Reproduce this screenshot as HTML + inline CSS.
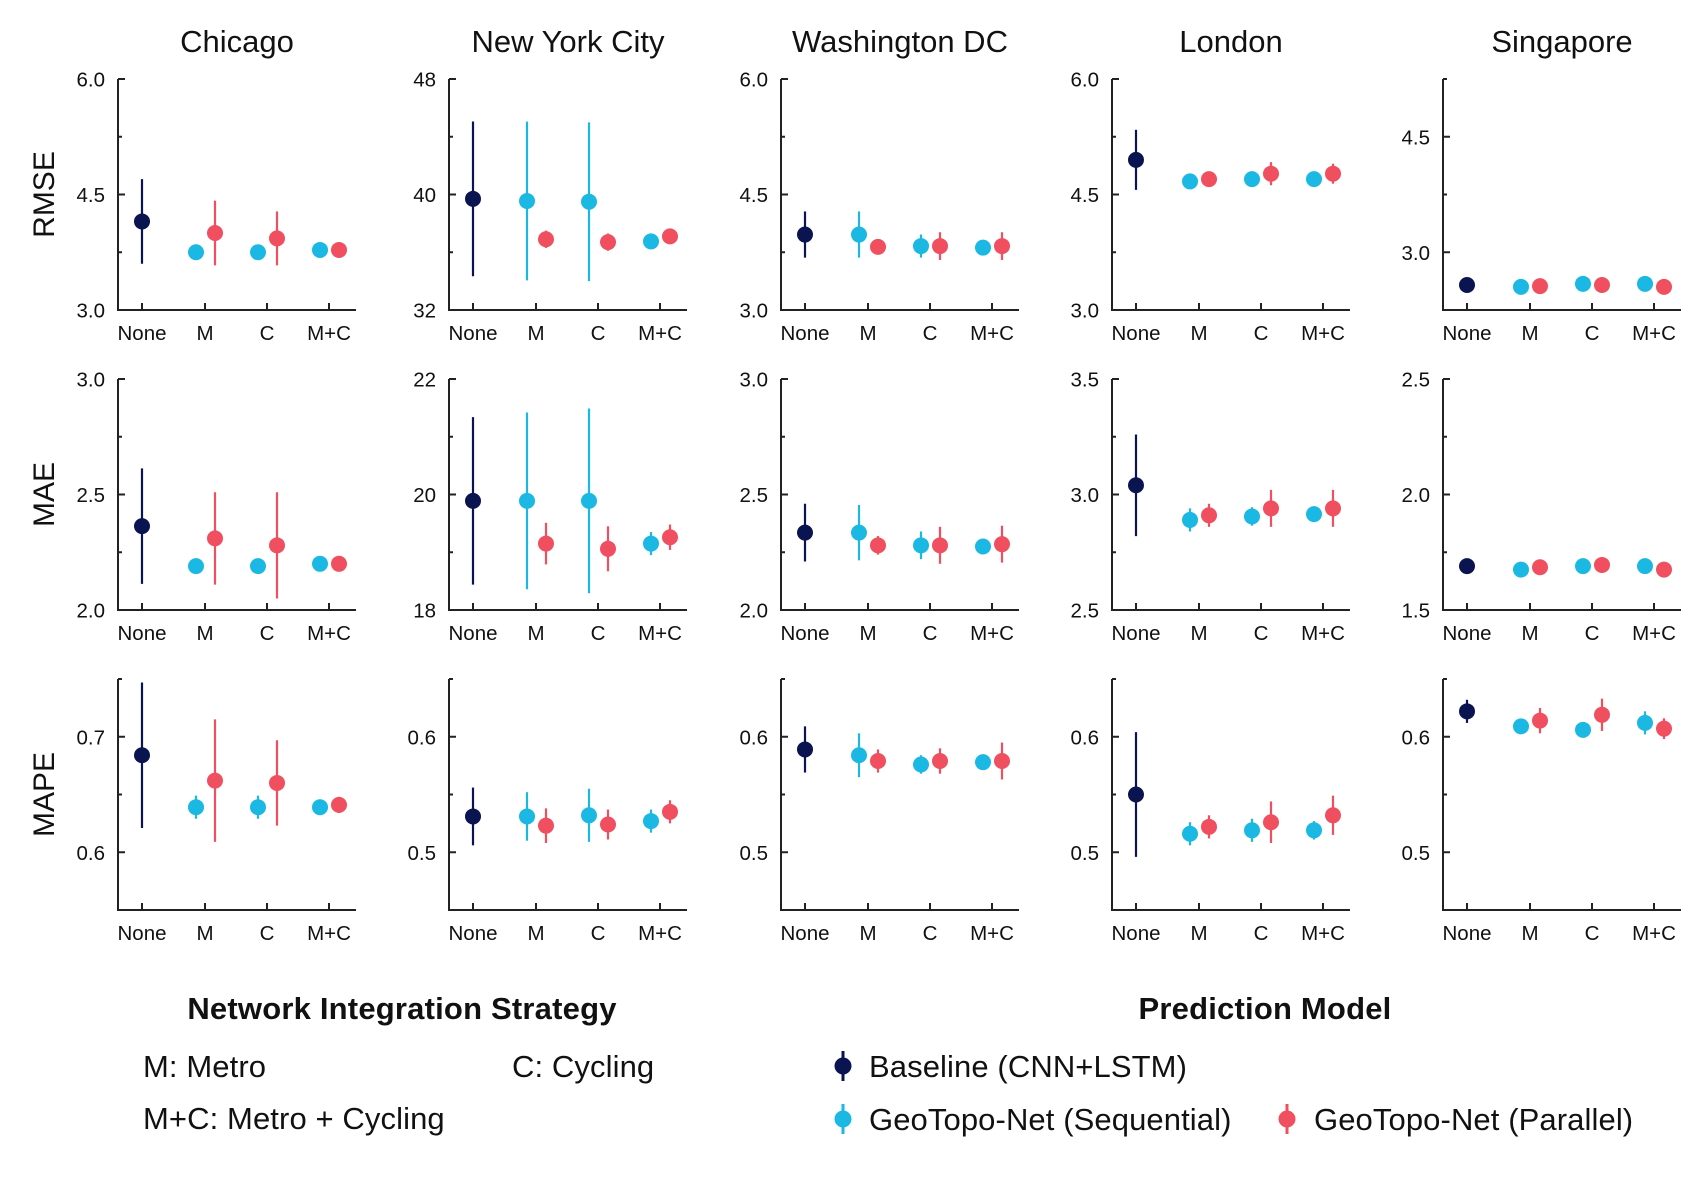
<!DOCTYPE html>
<html><head><meta charset="utf-8"><style>
html,body{margin:0;padding:0;background:#fff;}
svg{display:block;font-family:"Liberation Sans",Arial,sans-serif;}
</style></head><body>
<svg id="chart" width="1706" height="1179" viewBox="0 0 1706 1179"></svg>
<script>
const cities = ["Chicago","New York City","Washington DC","London","Singapore"];
const metrics = ["RMSE","MAE","MAPE"];
const categories = ["None","M","C","M+C"];
// y-axis domains [min,max] per metric row, per city
const domains = [
 [[3,6],[32,48],[3,6],[3,6],[2.25,5.25]],
 [[2,3],[18,22],[2,3],[2.5,3.5],[1.5,2.5]],
 [[0.55,0.75],[0.45,0.65],[0.45,0.65],[0.45,0.65],[0.45,0.65]]
];
const majorTicks = [
 [[3,4.5,6],[32,40,48],[3,4.5,6],[3,4.5,6],[3,4.5]],
 [[2,2.5,3],[18,20,22],[2,2.5,3],[2.5,3,3.5],[1.5,2,2.5]],
 [[0.6,0.7],[0.5,0.6],[0.5,0.6],[0.5,0.6],[0.5,0.6]]
];
const tickLabels = [
 [["3.0","4.5","6.0"],["32","40","48"],["3.0","4.5","6.0"],["3.0","4.5","6.0"],["3.0","4.5"]],
 [["2.0","2.5","3.0"],["18","20","22"],["2.0","2.5","3.0"],["2.5","3.0","3.5"],["1.5","2.0","2.5"]],
 [["0.6","0.7"],["0.5","0.6"],["0.5","0.6"],["0.5","0.6"],["0.5","0.6"]]
];
const minorTicks = [
 [[3.75,5.25],[36,44],[3.75,5.25],[3.75,5.25],[3.75,5.25,2.25]],
 [[2.25,2.75],[19,21],[2.25,2.75],[2.75,3.25],[1.75,2.25]],
 [[0.55,0.65,0.75],[0.45,0.55,0.65],[0.45,0.55,0.65],[0.45,0.55,0.65],[0.45,0.55,0.65]]
];
// baseline [mean, err] at "None"
const baseline = [
 [[4.15,0.55],[39.7,5.36],[3.98,0.3],[4.95,0.39],[2.575,0.06]],
 [[2.363,0.25],[19.89,1.45],[2.335,0.125],[3.04,0.22],[1.69,0.03]],
 [[0.684,0.063],[0.531,0.025],[0.589,0.02],[0.55,0.054],[0.622,0.01]]
];
// sequential means/errs at M, C, M+C
const seqMean = [
 [[3.75,3.75,3.78],[39.55,39.5,36.75],[3.98,3.83,3.81],[4.67,4.70,4.70],[2.55,2.59,2.59]],
 [[2.19,2.19,2.20],[19.89,19.89,19.15],[2.335,2.28,2.275],[2.89,2.905,2.915],[1.675,1.69,1.69]],
 [[0.639,0.639,0.639],[0.531,0.532,0.527],[0.584,0.576,0.578],[0.516,0.519,0.519],[0.609,0.606,0.612]]
];
const seqErr = [
 [[0.03,0.03,0.03],[5.5,5.5,0.3],[0.3,0.15,0.05],[0.05,0.05,0.05],[0.05,0.05,0.05]],
 [[0.02,0.02,0.02],[1.53,1.6,0.2],[0.12,0.06,0.02],[0.05,0.04,0.02],[0.015,0.015,0.015]],
 [[0.01,0.01,0.005],[0.021,0.023,0.01],[0.019,0.008,0.005],[0.01,0.01,0.008],[0.004,0.004,0.01]]
];
const parMean = [
 [[4.0,3.93,3.78],[36.9,36.7,37.1],[3.82,3.83,3.83],[4.70,4.77,4.77],[2.56,2.575,2.55]],
 [[2.31,2.28,2.20],[19.15,19.06,19.26],[2.28,2.28,2.285],[2.91,2.94,2.94],[1.685,1.695,1.675]],
 [[0.662,0.660,0.641],[0.523,0.524,0.535],[0.579,0.579,0.579],[0.522,0.526,0.532],[0.614,0.619,0.607]]
];
const parErr = [
 [[0.42,0.35,0.03],[0.6,0.6,0.5],[0.08,0.18,0.18],[0.08,0.15,0.13],[0.05,0.05,0.05]],
 [[0.2,0.23,0.02],[0.36,0.39,0.22],[0.04,0.08,0.08],[0.05,0.08,0.08],[0.015,0.015,0.015]],
 [[0.053,0.037,0.007],[0.015,0.013,0.01],[0.01,0.011,0.016],[0.01,0.018,0.017],[0.011,0.014,0.009]]
];
const COL = {base:"#0a1450", seq:"#1ab8e3", par:"#ef4f5f"};
const NS = "http://www.w3.org/2000/svg";
const svg = document.getElementById("chart");
function mk(tag, attrs, parent){const e=document.createElementNS(NS,tag);for(const k in attrs)e.setAttribute(k,attrs[k]);(parent||svg).appendChild(e);return e;}
const colX = [118,449,781,1112,1443];
const axW = 238;
const rowTop = [79,379,679];
const axH = 231;
const catX = [24,87,149,211];
const OFFL = 9, OFFR = 10;

cities.forEach((c,ci)=>{
  const t = mk("text",{x:colX[ci]+119,y:52,"text-anchor":"middle","font-size":31,fill:"#111"});
  t.textContent=c;
  
  
});
metrics.forEach((m,ri)=>{
  const cy = rowTop[ri]+axH/2;
  const t = mk("text",{x:0,y:0,transform:`translate(54,${cy}) rotate(-90)`,"text-anchor":"middle","font-size":30,fill:"#111"});
  t.textContent=m;
  
  
});

for(let ri=0;ri<3;ri++){
  for(let ci=0;ci<5;ci++){
    const g = mk("g",{});
    
    
    const x0=colX[ci], y0=rowTop[ri], yb=y0+axH;
    const [d0,d1]=domains[ri][ci];
    const ys = v=> yb-(v-d0)/(d1-d0)*axH;
    const xs = i=> x0+catX[i];
    const ax = mk("path",{d:`M${x0} ${y0}V${yb}H${x0+axW}`,fill:"none",stroke:"#222","stroke-width":2},g);
    
    
    majorTicks[ri][ci].forEach((v,k)=>{
      const y=ys(v);
      const tk=mk("line",{x1:x0,x2:x0+7,y1:y,y2:y,stroke:"#222","stroke-width":2},g);
      
      
      const tl=mk("text",{x:x0-13,y:y+7.5,"text-anchor":"end","font-size":20.5,fill:"#111"},g);
      tl.textContent=tickLabels[ri][ci][k];
      
      
    });
    minorTicks[ri][ci].forEach(v=>{
      if(v<d0-1e-9||v>d1+1e-9) return;
      const y=ys(v);
      const tk=mk("line",{x1:x0,x2:x0+4,y1:y,y2:y,stroke:"#222","stroke-width":2},g);
      
      
    });
    categories.forEach((cat,k)=>{
      const x=xs(k);
      const tk=mk("line",{x1:x,x2:x,y1:yb,y2:yb-7,stroke:"#222","stroke-width":2},g);
      
      
      const tl=mk("text",{x:x,y:yb+30,"text-anchor":"middle","font-size":20.5,fill:"#111"},g);
      tl.textContent=cat;
      
      
    });
    function pt(x,m,e,col,name){
      const l=mk("line",{x1:x,x2:x,y1:ys(m-e),y2:ys(m+e),stroke:col,"stroke-width":2.2},g);
      
      
      const c=mk("circle",{cx:x,cy:ys(m),r:8,fill:col},g);
      
      
    }
    pt(xs(0),baseline[ri][ci][0],baseline[ri][ci][1],COL.base,'baseline');
    for(let k=0;k<3;k++){
      pt(xs(k+1)-OFFL,seqMean[ri][ci][k],seqErr[ri][ci][k],COL.seq,'sequential');
      pt(xs(k+1)+OFFR,parMean[ri][ci][k],parErr[ri][ci][k],COL.par,'parallel');
    }
  }
}

function txt(x,y,s,size,name,opts){
  const t=mk("text",Object.assign({x:x,y:y,"font-size":size,fill:"#111","letter-spacing":0.1},opts||{}));
  t.textContent=s;
  
  
  return t;
}
txt(402,1019,"Network Integration Strategy",31,'strategy-legend-title',{"text-anchor":"middle","font-weight":"bold","letter-spacing":0.2});
txt(1265,1019,"Prediction Model",31,'model-legend-title',{"text-anchor":"middle","font-weight":"bold","letter-spacing":0.2});
txt(143,1077,"M: Metro",31,'legend-metro');
txt(512,1077,"C: Cycling",31,'legend-cycling');
txt(143,1129,"M+C: Metro + Cycling",31,'legend-metro-cycling');
function legMark(x,y,col,name){
  const l=mk("line",{x1:x,x2:x,y1:y-15,y2:y+15,stroke:col,"stroke-width":3});
  
  
  const c=mk("circle",{cx:x,cy:y,r:8.5,fill:col});
  
  
}
legMark(843,1066,COL.base,'baseline');
txt(869,1077,"Baseline (CNN+LSTM)",31,'legend-baseline');
legMark(843,1119,COL.seq,'sequential');
txt(869,1130,"GeoTopo-Net (Sequential)",31,'legend-sequential');
legMark(1287,1119,COL.par,'parallel');
txt(1314,1130,"GeoTopo-Net (Parallel)",31,'legend-parallel');
</script>
</body></html>
